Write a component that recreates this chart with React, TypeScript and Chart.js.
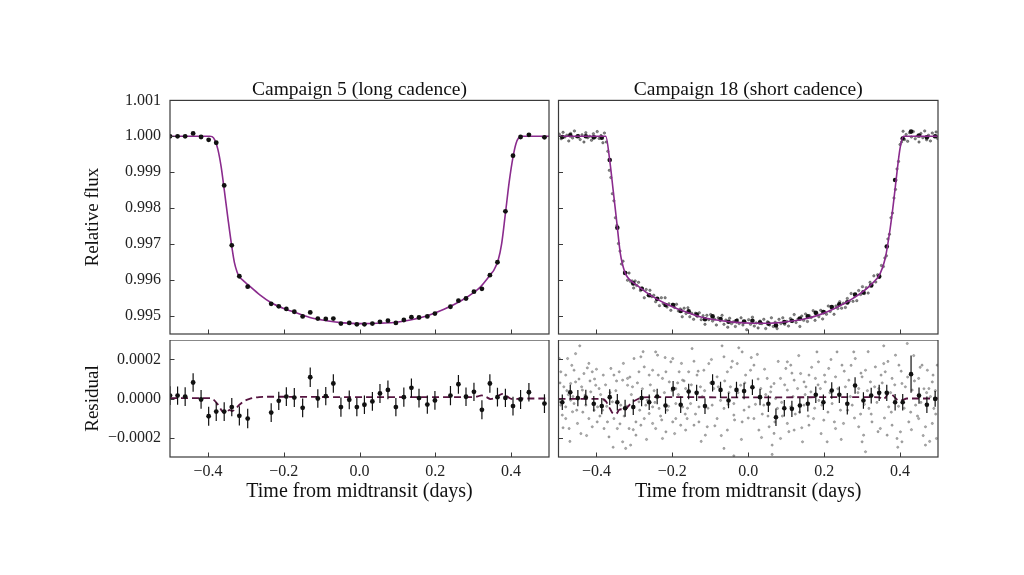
import React, { useEffect, useRef } from 'react';
import { Chart, registerables } from 'chart.js';

Chart.register(...registerables);

const SERIF = "'Liberation Serif', 'Times New Roman', serif";
const PURPLE = '#8a2b8d';
const DASH = '#561440';
const INK = '#111111';

// ---------- axes ----------
const TIME_RANGE = [-0.5, 0.5];
const FLUX_RANGE = [0.99449, 1.001];
const RESID_RANGE = [-0.0003, 0.0003];
const TIME_TICKS = [-0.4, -0.2, 0, 0.2, 0.4];
const TIME_TICK_LABELS = ['\u22120.4', '\u22120.2', '0.0', '0.2', '0.4'];
const FLUX_TICKS = [0.995, 0.996, 0.997, 0.998, 0.999, 1.0, 1.001];
const FLUX_TICK_LABELS = ['0.995', '0.996', '0.997', '0.998', '0.999', '1.000', '1.001'];
const RESID_TICKS = [-0.0002, 0, 0.0002];
const RESID_TICK_LABELS = ['\u22120.0002', '0.0000', '0.0002'];

// ---------- Campaign 5 (long cadence) ----------
const C5_X = [-0.500, -0.480, -0.460, -0.439, -0.418, -0.398, -0.378, -0.357, -0.337, -0.317, -0.295,
  -0.233, -0.213, -0.193, -0.172, -0.150, -0.130, -0.110, -0.089, -0.069, -0.049, -0.027, -0.007,
  0.013, 0.034, 0.054, 0.075, 0.096, 0.117, 0.137, 0.157, 0.179, 0.199, 0.240, 0.261, 0.281, 0.302,
  0.323, 0.344, 0.364, 0.385, 0.405, 0.425, 0.447, 0.488];
const C5_FLUX = [1.00000, 1.00000, 1.00000, 1.00008, 0.99998, 0.99990, 0.99982, 0.99863, 0.99696, 0.99610, 0.99581,
  0.99533, 0.99526, 0.99519, 0.99511, 0.99498, 0.99509, 0.99492, 0.99491, 0.99492, 0.99478, 0.99480, 0.99476,
  0.99476, 0.99478, 0.99483, 0.99486, 0.99480, 0.99488, 0.99496, 0.99495, 0.99498, 0.99506, 0.99525, 0.99542,
  0.99548, 0.99567, 0.99575, 0.99613, 0.99649, 0.99791, 0.99946, 0.99998, 1.00004, 0.99997];
const C5_RESID = [0.000015, 0.000015, 0.000010, 0.000082, -0.000005, -0.000091, -0.000067, -0.000067, -0.000044,
  -0.000089, -0.000103, -0.000072, -0.000012, 0.000010, 0.000005, -0.000048, 0.000109, 0.000000, 0.000012,
  0.000077, -0.000044, -0.000007, -0.000044, -0.000032, -0.000015, 0.000026, 0.000044, -0.000044, 0.000007,
  0.000055, 0.000002, -0.000031, -0.000010, 0.000015, 0.000073, 0.000009, 0.000034, -0.000058, 0.000077,
  0.000007, 0.000003, -0.000039, -0.000005, 0.000032, -0.000026];
const C5_ERR = [0.000048, 0.000047, 0.000048, 0.000047, 0.000048, 0.000049, 0.000048, 0.000048, 0.000047,
  0.000049, 0.000050, 0.000048, 0.000047, 0.000048, 0.000049, 0.000048, 0.000050, 0.000048, 0.000047,
  0.000048, 0.000049, 0.000048, 0.000047, 0.000048, 0.000048, 0.000049, 0.000048, 0.000047, 0.000049,
  0.000048, 0.000048, 0.000047, 0.000048, 0.000049, 0.000048, 0.000048, 0.000047, 0.000049, 0.000048,
  0.000048, 0.000047, 0.000048, 0.000049, 0.000048, 0.000048];
const C5_MODEL_X = [-0.5, -0.395, -0.389, -0.382, -0.374, -0.365, -0.357, -0.347, -0.337, -0.330, -0.323, -0.317,
  -0.306, -0.295, -0.263, -0.233, -0.200, -0.175, -0.131, -0.087, -0.042, 0.0, 0.046, 0.090, 0.134, 0.179,
  0.223, 0.267, 0.302, 0.320, 0.335, 0.344, 0.355, 0.366, 0.375, 0.385, 0.395, 0.405, 0.413, 0.420, 0.428, 0.5];
const C5_MODEL_FLUX = [1.0, 1.0, 0.99999, 0.99990, 0.99965, 0.99915, 0.99852, 0.99770, 0.99693, 0.99648, 0.99622,
  0.99609, 0.99597, 0.99587, 0.99558, 0.99536, 0.99520, 0.99511, 0.99495, 0.99486, 0.99480, 0.99478, 0.99479,
  0.99481, 0.99488, 0.99500, 0.99518, 0.99541, 0.99565, 0.99581, 0.99600, 0.99613, 0.99628, 0.99655, 0.99700,
  0.99785, 0.99873, 0.99942, 0.99980, 0.99996, 1.0, 1.0];
const C5_RMODEL_X = [-0.5, -0.395, -0.387, -0.374, -0.361, -0.352, -0.343, -0.336, -0.328, -0.318, -0.305, -0.290,
  -0.265, -0.230, 0.0, 0.290, 0.310, 0.322, 0.334, 0.346, 0.358, 0.368, 0.378, 0.388, 0.398, 0.408, 0.425, 0.5];
const C5_RMODEL = [0.000002, 0.000002, -0.000003, -0.000030, -0.000068, -0.000076, -0.000058, -0.000064, -0.000055,
  -0.000034, -0.000014, -0.000002, 0.000007, 0.000009, 0.000007, 0.000007, 0.000010, 0.000016, 0.000008,
  -0.000003, 0.000003, 0.000016, 0.000024, 0.000013, 0.000000, -0.000004, 0.0, 0.0];

// ---------- Campaign 18 (short cadence) ----------
const C18_BIN_X = [-0.490, -0.469, -0.449, -0.428, -0.407, -0.386, -0.365, -0.345, -0.3245, -0.303, -0.281, -0.261,
  -0.240, -0.218, -0.198, -0.178, -0.157, -0.136, -0.114, -0.094, -0.073, -0.052, -0.031, -0.011, 0.011, 0.031,
  0.053, 0.073, 0.095, 0.115, 0.136, 0.157, 0.178, 0.198, 0.220, 0.240, 0.261, 0.2815, 0.3035, 0.324, 0.345,
  0.365, 0.387, 0.407, 0.429, 0.450, 0.4707, 0.4925];
const C18_BIN_FLUX = [0.99998, 1.00003, 1.00000, 1.00000, 0.99997, 0.99996, 0.99934, 0.99745, 0.99619, 0.99590,
  0.99575, 0.99557, 0.99547, 0.99530, 0.99530, 0.99513, 0.99512, 0.99503, 0.99490, 0.99498, 0.99491, 0.99483,
  0.99485, 0.99484, 0.99486, 0.99481, 0.99478, 0.99473, 0.99482, 0.99486, 0.99492, 0.99498, 0.99508, 0.99510,
  0.99524, 0.99532, 0.99537, 0.99559, 0.99565, 0.99584, 0.99609, 0.99693, 0.99878, 0.99994, 1.00013, 1.00002,
  0.99997, 1.00000];
const C18_BIN_RESID = [-0.000019, 0.000032, 0.000002, 0.000005, -0.000027, -0.000039, 0.000007, -0.000019,
  -0.000050, -0.000044, 0.000002, -0.000019, 0.000010, -0.000036, 0.000050, -0.000032, 0.000036, 0.000029,
  -0.000039, 0.000080, 0.000044, -0.000010, 0.000044, 0.000038, 0.000058, 0.000007, -0.000027, -0.000096,
  -0.000050, -0.000053, -0.000036, -0.000027, 0.000019, -0.000019, 0.000041, 0.000019, -0.000027, 0.000067,
  -0.000010, 0.000015, 0.000029, 0.000029, -0.000019, -0.000019, 0.000125, 0.000015, -0.000032, -0.000002];
const C18_BIN_ERR = [0.000040, 0.000038, 0.000042, 0.000040, 0.000040, 0.000042, 0.000040, 0.000042, 0.000044,
  0.000040, 0.000042, 0.000040, 0.000040, 0.000042, 0.000040, 0.000042, 0.000040, 0.000042, 0.000040, 0.000044,
  0.000042, 0.000040, 0.000042, 0.000042, 0.000040, 0.000042, 0.000042, 0.000045, 0.000042, 0.000042, 0.000040,
  0.000040, 0.000042, 0.000040, 0.000042, 0.000042, 0.000055, 0.000042, 0.000042, 0.000040, 0.000042, 0.000042,
  0.000042, 0.000042, 0.000095, 0.000042, 0.000042, 0.000040];
const C18_MODEL_X = [-0.5, -0.3755, -0.365, -0.356, -0.347, -0.337, -0.331, -0.326, -0.321, -0.314, -0.304, -0.294,
  -0.259, -0.215, -0.171, -0.127, -0.083, -0.040, 0.013, 0.057, 0.101, 0.145, 0.189, 0.233, 0.277, 0.321, 0.3475,
  0.361, 0.374, 0.383, 0.392, 0.400, 0.409, 0.5];
const C18_MODEL_FLUX = [1.0, 1.0, 0.99933, 0.99850, 0.99766, 0.99673, 0.99642, 0.99624, 0.99612, 0.99602, 0.99593,
  0.99585, 0.99558, 0.99532, 0.99513, 0.99497, 0.99488, 0.99482, 0.99479, 0.99479, 0.99483, 0.99490, 0.99503,
  0.99523, 0.99549, 0.99584, 0.99617, 0.99660, 0.99743, 0.99817, 0.99901, 0.99966, 1.0, 1.0];
const C18_RMODEL_X = [-0.5, -0.385, -0.375, -0.365, -0.355, -0.348, -0.340, -0.333, -0.325, -0.317, -0.308, -0.296,
  -0.283, -0.260, 0.0, 0.330, 0.345, 0.354, 0.362, 0.370, 0.378, 0.386, 0.396, 0.406, 0.418, 0.5];
const C18_RMODEL = [-0.000002, -0.000002, -0.000015, -0.000050, -0.000078, -0.000078, -0.000058, -0.000055,
  -0.000058, -0.000042, -0.000022, -0.000008, 0.000003, 0.000007, 0.000006, 0.000007, 0.000006, -0.000004,
  0.000006, 0.000027, 0.000022, 0.000006, -0.000010, -0.000008, 0.0, 0.0];

// individual short-cadence exposures: [time, relative flux]
const C18_SC_FLUX = [
  [-0.498, 1.00006], [-0.493, 0.99993], [-0.488, 1.00011], [-0.483, 0.99998], [-0.478, 1.00003], [-0.473, 0.99987],
  [-0.468, 1.00008], [-0.463, 0.99995], [-0.458, 1.00015], [-0.453, 0.99999], [-0.448, 1.00002], [-0.443, 0.99991],
  [-0.438, 1.00004], [-0.433, 0.99984], [-0.428, 1.00010], [-0.423, 0.99996], [-0.418, 1.00000], [-0.413, 0.99989],
  [-0.408, 1.00007], [-0.403, 0.99997], [-0.398, 1.00013], [-0.393, 0.99994], [-0.388, 1.00002], [-0.383, 0.99982],
  [-0.379, 1.00009],
  [-0.374, 0.99984], [-0.370, 0.99958], [-0.366, 0.99905], [-0.362, 0.99885], [-0.358, 0.99840], [-0.354, 0.99820],
  [-0.350, 0.99773], [-0.346, 0.99752], [-0.342, 0.99701], [-0.338, 0.99680], [-0.334, 0.99644], [-0.330, 0.99652],
  [-0.326, 0.99622],
  [-0.322, 0.99620], [-0.318, 0.99599], [-0.314, 0.99619], [-0.310, 0.99595], [-0.306, 0.99597], [-0.302, 0.99577],
  [-0.298, 0.99597], [-0.294, 0.99584], [-0.289, 0.99593], [-0.284, 0.99570], [-0.279, 0.99577], [-0.274, 0.99550],
  [-0.269, 0.99573], [-0.264, 0.99557], [-0.259, 0.99571], [-0.254, 0.99553], [-0.249, 0.99557], [-0.244, 0.99539],
  [-0.239, 0.99547], [-0.234, 0.99528], [-0.229, 0.99550], [-0.224, 0.99534], [-0.219, 0.99550], [-0.214, 0.99524],
  [-0.209, 0.99533], [-0.204, 0.99515], [-0.199, 0.99532], [-0.194, 0.99523], [-0.189, 0.99532], [-0.184, 0.99513],
  [-0.179, 0.99519], [-0.174, 0.99497], [-0.169, 0.99521], [-0.164, 0.99506], [-0.159, 0.99522], [-0.154, 0.99497],
  [-0.149, 0.99507], [-0.144, 0.99490], [-0.139, 0.99507], [-0.134, 0.99498], [-0.129, 0.99508], [-0.124, 0.99489],
  [-0.119, 0.99500], [-0.114, 0.99476], [-0.109, 0.99501], [-0.104, 0.99489], [-0.099, 0.99503], [-0.094, 0.99485],
  [-0.089, 0.99491], [-0.084, 0.99474], [-0.079, 0.99494], [-0.074, 0.99486], [-0.069, 0.99501], [-0.064, 0.99476],
  [-0.059, 0.99488], [-0.054, 0.99468], [-0.049, 0.99493], [-0.044, 0.99478], [-0.039, 0.99483], [-0.034, 0.99470],
  [-0.029, 0.99489], [-0.024, 0.99478], [-0.019, 0.99494], [-0.014, 0.99474], [-0.009, 0.99484], [-0.004, 0.99461],
  [0.001, 0.99489], [0.006, 0.99476], [0.011, 0.99496], [0.016, 0.99471], [0.021, 0.99480], [0.026, 0.99466],
  [0.031, 0.99485], [0.036, 0.99478], [0.041, 0.99490], [0.046, 0.99464], [0.051, 0.99483], [0.056, 0.99474],
  [0.061, 0.99494], [0.066, 0.99470], [0.071, 0.99482], [0.076, 0.99464], [0.081, 0.99490], [0.086, 0.99478],
  [0.091, 0.99494], [0.096, 0.99476], [0.101, 0.99484], [0.106, 0.99471], [0.111, 0.99492], [0.116, 0.99484],
  [0.121, 0.99503], [0.126, 0.99481], [0.131, 0.99491], [0.136, 0.99470], [0.141, 0.99499], [0.146, 0.99487],
  [0.151, 0.99505], [0.156, 0.99484], [0.161, 0.99500], [0.166, 0.99495], [0.171, 0.99514], [0.176, 0.99487],
  [0.181, 0.99507], [0.186, 0.99497], [0.191, 0.99515], [0.196, 0.99491], [0.201, 0.99511], [0.206, 0.99504],
  [0.211, 0.99527], [0.216, 0.99512], [0.221, 0.99525], [0.226, 0.99504], [0.231, 0.99527], [0.236, 0.99520],
  [0.241, 0.99539], [0.246, 0.99521], [0.251, 0.99535], [0.256, 0.99523], [0.261, 0.99548], [0.266, 0.99540],
  [0.271, 0.99562], [0.276, 0.99540], [0.281, 0.99556], [0.286, 0.99542], [0.291, 0.99570], [0.296, 0.99559],
  [0.301, 0.99581], [0.306, 0.99562], [0.311, 0.99578], [0.316, 0.99563], [0.321, 0.99593], [0.326, 0.99586],
  [0.331, 0.99611], [0.336, 0.99594], [0.341, 0.99614], [0.346, 0.99613], [0.351, 0.99640], [0.356, 0.99637],
  [0.360, 0.99661], [0.364, 0.99667], [0.368, 0.99714], [0.372, 0.99727], [0.376, 0.99773], [0.380, 0.99786],
  [0.384, 0.99828], [0.388, 0.99852], [0.392, 0.99909], [0.396, 0.99930], [0.400, 0.99977], [0.404, 0.99984],
  [0.408, 1.00014],
  [0.412, 0.99991], [0.416, 1.00005], [0.420, 0.99986], [0.425, 1.00010], [0.430, 0.99998], [0.435, 1.00013],
  [0.440, 0.99993], [0.445, 1.00001], [0.450, 0.99984], [0.455, 1.00008], [0.460, 0.99996], [0.465, 1.00015],
  [0.470, 0.99990], [0.475, 1.00003], [0.480, 0.99987], [0.485, 1.00009], [0.490, 0.99999], [0.495, 1.00012],
  [0.499, 0.99994],
];

// individual short-cadence residuals: [time, residual]
const C18_SC_RESID = [
  [-0.444, 0.000270], [-0.494, 0.000137], [-0.481, 0.000120], [-0.465, 0.000170], [-0.459, 0.000145], [-0.455, 0.000085],
  [-0.486, 0.000060], [-0.468, 0.000077], [-0.446, 0.000100], [-0.433, 0.000128], [-0.420, 0.000180], [-0.424, 0.000157],
  [-0.411, 0.000137], [-0.402, 0.000068], [-0.393, 0.000051], [-0.415, 0.000034], [-0.430, 0.000017], [-0.490, -0.000085],
  [-0.481, -0.000103], [-0.463, -0.000068], [-0.450, -0.000128], [-0.441, -0.000180], [-0.472, -0.000154], [-0.420, -0.000103],
  [-0.411, -0.000145], [-0.398, -0.000120], [-0.494, -0.000034], [-0.481, -0.000043], [-0.459, -0.000026], [-0.428, -0.000034],
  [-0.498, 0.000205], [-0.450, 0.000009], [-0.498, -0.000017], [-0.468, -0.000009], [-0.437, 0.000043], [-0.406, -0.000060],
  [-0.476, 0.000205], [-0.455, 0.000230],
  [-0.384, -0.000060], [-0.371, -0.000120], [-0.367, -0.000197], [-0.380, -0.000154], [-0.354, -0.000103], [-0.345, -0.000154],
  [-0.331, -0.000222], [-0.323, -0.000256], [-0.310, -0.000239], [-0.314, -0.000154], [-0.296, -0.000120], [-0.296, -0.000188],
  [-0.283, -0.000137], [-0.274, -0.000103], [-0.261, -0.000077], [-0.252, -0.000128], [-0.244, -0.000154], [-0.226, -0.000205],
  [-0.217, -0.000171], [-0.199, -0.000120], [-0.191, -0.000103], [-0.178, -0.000137], [-0.244, 0.000239], [-0.239, 0.000222],
  [-0.199, 0.000205], [-0.204, 0.000188], [-0.288, 0.000137], [-0.274, 0.000162], [-0.261, 0.000120], [-0.252, 0.000145],
  [-0.301, 0.000205], [-0.283, 0.000214], [-0.362, 0.000154], [-0.354, 0.000120], [-0.340, 0.000137], [-0.331, 0.000094],
  [-0.318, 0.000103], [-0.318, 0.000068], [-0.305, 0.000060], [-0.226, 0.000103], [-0.217, 0.000137], [-0.208, 0.000085],
  [-0.182, 0.000137], [-0.173, 0.000094], [-0.191, 0.000051], [-0.397, -0.000043], [-0.379, -0.000009], [-0.358, -0.000017],
  [-0.336, -0.000034], [-0.288, -0.000017], [-0.270, -0.000034], [-0.252, -0.000043], [-0.235, -0.000051], [-0.213, -0.000060],
  [-0.191, -0.000026], [-0.173, -0.000043],
  [-0.474, 0.000020], [-0.436, -0.000070], [-0.405, 0.000100], [-0.389, 0.000020], [-0.376, 0.000070], [-0.349, 0.000040],
  [-0.327, -0.000090], [-0.308, 0.000020], [-0.279, 0.000050], [-0.266, -0.000010], [-0.248, 0.000040], [-0.231, -0.000090],
  [-0.221, 0.000030], [-0.186, 0.000080], [-0.166, -0.000080],
  [-0.148, 0.000256], [-0.069, 0.000270], [-0.025, 0.000260], [-0.016, 0.000239], [0.024, 0.000226], [-0.064, 0.000214],
  [-0.042, 0.000191], [-0.029, 0.000179], [0.015, 0.000171], [-0.104, 0.000179], [-0.143, 0.000191], [0.103, 0.000188],
  [0.112, 0.000171], [0.099, 0.000154], [0.138, 0.000128], [0.160, 0.000120], [-0.157, 0.000137], [-0.135, 0.000120],
  [-0.117, 0.000145], [-0.082, 0.000111], [-0.055, 0.000137], [-0.007, 0.000120], [0.006, 0.000145], [0.050, 0.000103],
  [0.068, 0.000077], [0.085, 0.000103], [0.121, 0.000094], [0.147, 0.000085], [-0.165, 0.000051], [-0.126, 0.000060],
  [-0.091, 0.000051], [-0.047, 0.000060], [-0.020, 0.000068], [0.033, 0.000051], [0.059, 0.000034], [0.103, 0.000043],
  [0.130, 0.000051], [0.165, 0.000034], [-0.152, -0.000026], [-0.130, -0.000043], [-0.095, -0.000034], [-0.064, -0.000051],
  [-0.038, -0.000026], [0.002, -0.000043], [0.041, -0.000034], [0.077, -0.000051], [0.112, -0.000043], [0.147, -0.000034],
  [-0.161, -0.000103], [-0.143, -0.000137], [-0.108, -0.000145], [-0.113, -0.000188], [-0.082, -0.000103], [-0.055, -0.000162],
  [-0.038, -0.000085], [-0.016, -0.000120], [0.015, -0.000103], [0.028, -0.000162], [0.055, -0.000145], [0.068, -0.000179],
  [0.063, -0.000239], [0.085, -0.000205], [0.103, -0.000128], [0.121, -0.000162], [0.143, -0.000222], [0.160, -0.000137],
  [-0.064, -0.000256], [-0.038, -0.000294], [0.063, -0.000287], [-0.165, -0.000162], [-0.130, -0.000120],
  [-0.121, 0.000010], [-0.099, 0.000080], [-0.073, -0.000010], [-0.051, 0.000030], [-0.011, -0.000060], [0.010, 0.000060],
  [0.037, -0.000080], [0.046, 0.000020], [0.072, 0.000000], [0.090, -0.000090], [0.118, 0.000010], [0.135, -0.000070],
  [0.152, 0.000060],
  [0.181, 0.000239], [0.234, 0.000239], [0.278, 0.000239], [0.357, 0.000270], [0.419, 0.000282], [0.388, 0.000222],
  [0.397, 0.000171], [0.185, 0.000188], [0.212, 0.000154], [0.247, 0.000171], [0.282, 0.000205], [0.309, 0.000145],
  [0.335, 0.000162], [0.357, 0.000179], [0.361, 0.000137], [0.458, 0.000171], [0.472, 0.000145], [0.498, 0.000171],
  [0.449, 0.000103], [0.177, 0.000103], [0.203, 0.000085], [0.230, 0.000111], [0.265, 0.000094], [0.300, 0.000111],
  [0.322, 0.000085], [0.379, 0.000103], [0.405, 0.000077], [0.485, 0.000085], [0.190, 0.000051], [0.256, 0.000060],
  [0.291, 0.000051], [0.344, 0.000051], [0.432, 0.000043], [0.476, 0.000051], [0.194, -0.000034], [0.221, -0.000026],
  [0.274, -0.000034], [0.318, -0.000051], [0.370, -0.000043], [0.441, -0.000034], [0.489, -0.000051], [0.172, -0.000103],
  [0.199, -0.000111], [0.230, -0.000154], [0.251, -0.000128], [0.291, -0.000145], [0.304, -0.000188], [0.326, -0.000120],
  [0.348, -0.000154], [0.366, -0.000188], [0.379, -0.000137], [0.401, -0.000171], [0.423, -0.000120], [0.449, -0.000103],
  [0.467, -0.000145], [0.485, -0.000128], [0.496, -0.000205], [0.208, -0.000222], [0.300, -0.000222], [0.405, -0.000222],
  [0.392, -0.000205], [0.467, -0.000239], [0.309, -0.000273],
  [0.186, -0.000010], [0.215, 0.000030], [0.243, -0.000060], [0.269, 0.000010], [0.296, -0.000080], [0.314, 0.000040],
  [0.339, -0.000020], [0.353, 0.000080], [0.375, 0.000030], [0.396, -0.000040], [0.414, 0.000060], [0.428, -0.000070],
  [0.438, 0.000090], [0.455, -0.000020], [0.463, 0.000050], [0.480, 0.000010], [0.493, 0.000040],
  [-0.496, 0.000080], [-0.488, -0.000150], [-0.478, 0.000040], [-0.470, -0.000220], [-0.462, 0.000010], [-0.452, -0.000060],
  [-0.439, 0.000060], [-0.426, -0.000190], [-0.417, 0.000090], [-0.409, -0.000030], [-0.400, 0.000150], [-0.391, -0.000090],
  [-0.382, 0.000120], [-0.373, -0.000040], [-0.364, 0.000030], [-0.356, -0.000250], [-0.347, 0.000090], [-0.338, -0.000130],
  [-0.329, 0.000180], [-0.320, -0.000040], [-0.312, 0.000110], [-0.303, -0.000160], [-0.292, 0.000080], [-0.286, -0.000060],
  [-0.277, 0.000240], [-0.268, -0.000210], [-0.258, 0.000070], [-0.246, -0.000020], [-0.237, 0.000120], [-0.228, -0.000110],
  [-0.219, 0.000210], [-0.210, -0.000040], [-0.201, 0.000040], [-0.194, -0.000180], [-0.184, 0.000020], [-0.176, 0.000180],
  [-0.169, 0.000090], [-0.160, -0.000050], [-0.150, 0.000070], [-0.139, -0.000080], [-0.132, 0.000140], [-0.124, -0.000220],
  [-0.115, 0.000040], [-0.106, -0.000050], [-0.097, 0.000200], [-0.088, -0.000140], [-0.079, 0.000060], [-0.071, -0.000190],
  [-0.062, 0.000090], [-0.053, -0.000030], [-0.045, 0.000160], [-0.036, -0.000110], [-0.027, 0.000030], [-0.018, -0.000210],
  [-0.009, 0.000080], [0.000, -0.000100], [0.008, 0.000210], [0.019, -0.000030], [0.026, 0.000100], [0.035, -0.000200],
  [0.043, 0.000150], [0.052, -0.000090], [0.060, 0.000060], [0.070, -0.000120], [0.079, 0.000190], [0.088, -0.000020],
  [0.096, 0.000070], [0.107, -0.000170], [0.115, 0.000130], [0.124, -0.000080], [0.133, 0.000220], [0.141, -0.000150],
  [0.150, 0.000020], [0.158, -0.000090], [0.167, 0.000160], [0.175, -0.000050], [0.184, 0.000070], [0.192, -0.000180],
  [0.201, 0.000120], [0.210, -0.000070], [0.218, 0.000200], [0.227, -0.000120], [0.236, 0.000050], [0.245, -0.000210],
  [0.253, 0.000140], [0.262, -0.000060], [0.271, 0.000170], [0.280, -0.000100], [0.289, 0.000030], [0.297, 0.000130],
  [0.306, -0.000030], [0.316, 0.000240], [0.324, -0.000080], [0.333, 0.000060], [0.342, -0.000170], [0.350, 0.000120],
  [0.359, -0.000100], [0.368, 0.000190], [0.377, -0.000070], [0.386, 0.000070], [0.394, -0.000250], [0.403, 0.000140],
  [0.411, -0.000050], [0.420, 0.000110], [0.430, -0.000160], [0.436, 0.000220], [0.446, -0.000090], [0.453, 0.000160],
  [0.461, -0.000190], [0.470, 0.000030], [0.478, -0.000220], [0.487, 0.000120], [0.494, -0.000080],
];

// ---------- helpers ----------
const pts = (xs: number[], ys: number[]) => xs.map((x, i) => ({ x, y: ys[i] }));
const pairs = (arr: number[][]) => arr.map(([x, y]) => ({ x, y }));
const errSegments = (xs: number[], ys: number[], es: number[]) =>
  xs.flatMap((x, i) => [{ x, y: ys[i] - es[i] }, { x, y: ys[i] + es[i] }, { x, y: null as any }]);

const framePlugin = {
  id: 'panelFrame',
  afterDatasetsDraw(chart: any, _args: any, opts: any) {
    const { ctx, chartArea: a, scales } = chart;
    ctx.save();
    ctx.strokeStyle = opts.color;
    ctx.lineWidth = 1;
    ctx.beginPath();
    for (const v of opts.xTicks) {
      const px = Math.round(scales.x.getPixelForValue(v)) + 0.5;
      ctx.moveTo(px, a.bottom);
      ctx.lineTo(px, a.bottom - opts.len);
    }
    for (const v of opts.yTicks) {
      const py = Math.round(scales.y.getPixelForValue(v)) + 0.5;
      ctx.moveTo(a.left, py);
      ctx.lineTo(a.left + opts.len, py);
    }
    ctx.stroke();
    ctx.lineWidth = 1.2;
    ctx.strokeRect(a.left, a.top, a.right - a.left, a.bottom - a.top);
    ctx.restore();
  },
};

function xAxis(show: boolean) {
  return {
    type: 'linear', min: TIME_RANGE[0], max: TIME_RANGE[1], offset: false, display: show,
    afterBuildTicks: (s: any) => { s.ticks = TIME_TICKS.map((v) => ({ value: v })); },
    ticks: { callback: (_v: any, i: number) => TIME_TICK_LABELS[i], font: { family: SERIF, size: 16 }, color: '#222', padding: 5.4, maxRotation: 0, autoSkip: false },
    grid: { display: false, drawTicks: false },
    border: { display: false },
    title: { display: show, text: 'Time from midtransit (days)', font: { family: SERIF, size: 20 }, color: INK, padding: { top: 0, bottom: 3.0 } },
    afterFit: (s: any) => { s.height = show ? 50 : 0; s.paddingLeft = 0; s.paddingRight = 0; },
  };
}

function yAxis(kind: 'flux' | 'resid', show: boolean) {
  const isFlux = kind === 'flux';
  const range = isFlux ? FLUX_RANGE : RESID_RANGE;
  const ticks = isFlux ? FLUX_TICKS : RESID_TICKS;
  const labels = isFlux ? FLUX_TICK_LABELS : RESID_TICK_LABELS;
  return {
    type: 'linear', min: range[0], max: range[1], display: show,
    afterBuildTicks: (s: any) => { s.ticks = ticks.map((v) => ({ value: v })); },
    ticks: { callback: (_v: any, i: number) => labels[i], font: { family: SERIF, size: 16 }, color: '#222', padding: 9, autoSkip: false },
    grid: { display: false, drawTicks: false },
    border: { display: false },
    title: { display: show, text: isFlux ? 'Relative flux' : 'Residual', font: { family: SERIF, size: 19 }, color: INK, padding: { top: 11.6, bottom: 0 } },
    afterFit: (s: any) => { s.width = show ? 100 : 0; s.paddingTop = 0; s.paddingBottom = 0; },
  };
}

type Spec = {
  left: number; top: number; width: number; height: number;
  padding: any; title?: string; kind: 'flux' | 'resid'; showY: boolean; showX: boolean; datasets: any[];
};

function buildConfig(spec: Spec): any {
  return {
    type: 'scatter',
    data: { datasets: spec.datasets },
    plugins: [framePlugin],
    options: {
      responsive: false,
      animation: false,
      events: [],
      layout: { padding: spec.padding, autoPadding: false },
      plugins: {
        legend: { display: false },
        tooltip: { enabled: false },
        title: spec.title
          ? { display: true, text: spec.title, fullSize: false, font: { family: SERIF, size: 19.5, weight: 'normal' }, color: INK, padding: { top: 8.6, bottom: -1.6 } }
          : { display: false },
        panelFrame: { xTicks: TIME_TICKS, yTicks: spec.kind === 'flux' ? FLUX_TICKS : RESID_TICKS, color: '#3a3a3a', len: 4.5 },
      },
      scales: { x: xAxis(spec.showX), y: yAxis(spec.kind, spec.showY) },
    },
  };
}

function Panel({ spec }: { spec: Spec }) {
  const ref = useRef<HTMLCanvasElement>(null);
  useEffect(() => {
    const chart = new Chart(ref.current as HTMLCanvasElement, buildConfig(spec));
    return () => chart.destroy();
  }, []);
  return (
    <canvas
      ref={ref}
      width={spec.width}
      height={spec.height}
      style={{ position: 'absolute', left: spec.left, top: spec.top, width: spec.width, height: spec.height }}
    />
  );
}

const modelLine = (data: any[], color: string, order: number, dash?: number[]) => ({
  type: 'line', data, borderColor: color, borderWidth: dash ? 1.8 : 1.6, borderDash: dash || [],
  pointRadius: 0, cubicInterpolationMode: 'monotone', showLine: true, fill: false, order, clip: 0,
});
const dots = (data: any[], radius: number, fill: string, stroke: string, bw: number, order: number) => ({
  type: 'scatter', data, pointRadius: radius, pointBackgroundColor: fill, pointBorderColor: stroke,
  pointBorderWidth: bw, showLine: false, order, clip: 0,
});
const errBars = (data: any[], order: number) => ({
  type: 'line', data, borderColor: INK, borderWidth: 1.2, pointRadius: 0, spanGaps: false,
  tension: 0, showLine: true, fill: false, order, clip: 0,
});

const SPECS: Spec[] = [
  {
    left: 70, top: 69.6, width: 484, height: 266.4, padding: { top: 0, left: 0, right: 5, bottom: 2 },
    title: 'Campaign 5 (long cadence)', kind: 'flux', showY: true, showX: false,
    datasets: [
      modelLine(pts(C5_MODEL_X, C5_MODEL_FLUX), PURPLE, 2),
      dots(pts(C5_X, C5_FLUX), 2.4, INK, INK, 0, 1),
    ],
  },
  {
    left: 552, top: 69.6, width: 392, height: 266.4, padding: { top: 0, left: 6.5, right: 6, bottom: 2 },
    title: 'Campaign 18 (short cadence)', kind: 'flux', showY: false, showX: false,
    datasets: [
      dots(pairs(C18_SC_FLUX), 1.25, 'rgba(55,55,55,0.6)', 'rgba(20,20,20,0.65)', 0.5, 4),
      dots(pts(C18_BIN_X, C18_BIN_FLUX), 2.3, INK, INK, 0, 2),
      modelLine(pts(C18_MODEL_X, C18_MODEL_FLUX), PURPLE, 1),
    ],
  },
  {
    left: 70, top: 340, width: 484, height: 167, padding: { top: 0, left: 0, right: 5, bottom: 0 },
    kind: 'resid', showY: true, showX: true,
    datasets: [
      modelLine(pts(C5_RMODEL_X, C5_RMODEL), DASH, 3, [7, 4]),
      errBars(errSegments(C5_X, C5_RESID, C5_ERR), 2),
      dots(pts(C5_X, C5_RESID), 2.4, INK, INK, 0, 1),
    ],
  },
  {
    left: 552, top: 340, width: 392, height: 167, padding: { top: 0, left: 6.5, right: 6, bottom: 0 },
    kind: 'resid', showY: false, showX: true,
    datasets: [
      dots(pairs(C18_SC_RESID), 1.1, 'rgba(150,150,150,0.75)', 'rgba(85,85,85,0.75)', 0.5, 4),
      modelLine(pts(C18_RMODEL_X, C18_RMODEL), DASH, 3, [7, 4]),
      errBars(errSegments(C18_BIN_X, C18_BIN_RESID, C18_BIN_ERR), 2),
      dots(pts(C18_BIN_X, C18_BIN_RESID), 2.3, INK, INK, 0, 1),
    ],
  },
];

export default function App() {
  return (
    <div style={{ position: 'absolute', left: 0, top: 0, width: 1024, height: 575, background: '#ffffff', overflow: 'hidden' }}>
      {SPECS.map((s, i) => <Panel key={i} spec={s} />)}
    </div>
  );
}
